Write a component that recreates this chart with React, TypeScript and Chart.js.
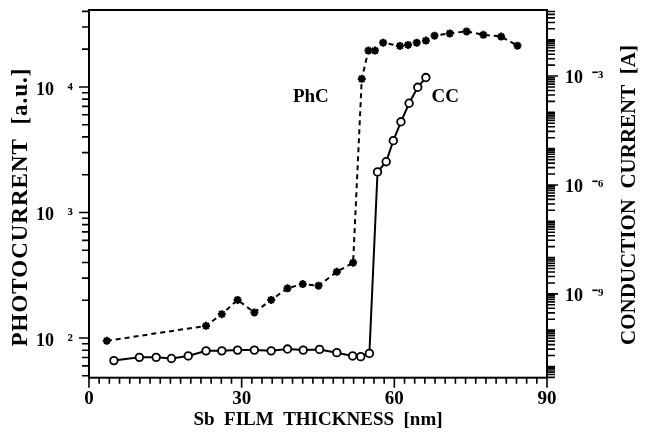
import React, { useEffect, useRef } from 'react';
import { Chart, registerables } from 'chart.js';

Chart.register(...registerables);

// Photocurrent (PhC), left axis [a.u.]
const phcThickness = [3.5, 23.0, 26.1, 29.2, 32.5, 35.8, 39.0, 42.0, 45.1, 48.7, 51.9, 53.6, 54.9, 56.2, 57.8, 61.1, 62.7, 64.4, 66.2, 67.9, 70.9, 74.2, 77.5, 81.0, 84.2];
const phcValues = [95, 125, 155, 201, 160, 201, 249, 269, 261, 337, 398, 11600, 19500, 19500, 22500, 21200, 21600, 22500, 23400, 25600, 26700, 27700, 26000, 25200, 21300];

// Conduction current (CC), right axis [A]
const ccThickness = [4.9, 9.9, 13.2, 16.2, 19.5, 23.0, 26.1, 29.2, 32.5, 35.8, 39.0, 42.1, 45.3, 48.7, 51.8, 53.4, 55.1, 56.7, 58.4, 59.8, 61.3, 62.9, 64.6, 66.2];
const ccValues = [1.45e-11, 1.78e-11, 1.78e-11, 1.66e-11, 1.95e-11, 2.69e-11, 2.69e-11, 2.82e-11, 2.82e-11, 2.69e-11, 3.02e-11, 2.82e-11, 2.95e-11, 2.40e-11, 1.95e-11, 1.86e-11, 2.29e-11, 2.29e-6, 4.37e-6, 1.66e-5, 5.5e-5, 1.78e-4, 4.9e-4, 9.1e-4];

// Axis ranges and tick labels
const xRange = [0, 90];
const xTickStep = 2;
const xTickLabels = [0, 30, 60, 90];
const leftRange = [48.3, 41000];
const leftTickLabels = [100, 1000, 10000];
const rightRange = [4.9e-12, 0.066];
const rightTickLabels = [1e-9, 1e-6, 1e-3];

const SUP: Record<string, string> = {
  '-': '\u207B', '0': '\u2070', '1': '\u00B9', '2': '\u00B2', '3': '\u00B3', '4': '\u2074',
  '5': '\u2075', '6': '\u2076', '7': '\u2077', '8': '\u2078', '9': '\u2079',
};
const powLabel = (v: number, gap: string) => {
  const e = String(Math.round(Math.log10(v)));
  return '10' + gap + e.split('').map((c) => SUP[c]).join('');
};
const sameLog = (a: number, b: number) => Math.abs(Math.log10(a) - Math.log10(b)) < 1e-6;

const logTicks = (min: number, max: number) => {
  const out: { value: number }[] = [];
  for (let e = Math.floor(Math.log10(min)); e <= Math.ceil(Math.log10(max)); e++) {
    for (let m = 1; m <= 9; m++) {
      const v = m * Math.pow(10, e);
      if (v >= min && v <= max) out.push({ value: v });
    }
  }
  return out;
};

const FONT = "'Liberation Serif', 'Times New Roman', serif";

const noPad = (s: any) => {
  s.paddingTop = 0;
  s.paddingBottom = 0;
  s.paddingLeft = 0;
  s.paddingRight = 0;
};

const framePlugin = {
  id: 'frame',
  afterDatasetsDraw(chart: any) {
    const { ctx, chartArea: a, scales } = chart;
    ctx.save();
    ctx.strokeStyle = '#000';
    ctx.lineWidth = 2;
    ctx.strokeRect(a.left, a.top, a.right - a.left, a.bottom - a.top);

    ctx.lineWidth = 1.6;
    ctx.beginPath();
    for (const t of scales.x.ticks) {
      const px = scales.x.getPixelForValue(t.value);
      const major = xTickLabels.includes(t.value);
      ctx.moveTo(px, a.bottom);
      ctx.lineTo(px, a.bottom + (major ? 10 : 6));
    }
    for (const t of scales.y.ticks) {
      const py = scales.y.getPixelForValue(t.value);
      const major = leftTickLabels.some((l) => sameLog(l, t.value));
      ctx.moveTo(a.left, py);
      ctx.lineTo(a.left - (major ? 10 : 7), py);
    }
    for (const t of scales.y1.ticks) {
      const py = scales.y1.getPixelForValue(t.value);
      const major = rightTickLabels.some((l) => sameLog(l, t.value));
      ctx.moveTo(a.right, py);
      ctx.lineTo(a.right + (major ? 11 : 8), py);
    }
    ctx.stroke();

    ctx.fillStyle = '#000';
    ctx.textAlign = 'center';
    ctx.textBaseline = 'middle';
    ctx.font = `bold 19px ${FONT}`;
    ctx.fillText('PhC', scales.x.getPixelForValue(43.6), scales.y.getPixelForValue(8300));
    ctx.fillText('CC', scales.x.getPixelForValue(70.0), scales.y.getPixelForValue(8300));

    ctx.save();
    ctx.font = `bold 23px ${FONT}`;
    (ctx as any).letterSpacing = '1px';
    ctx.translate(21, 207);
    ctx.rotate(-Math.PI / 2);
    ctx.fillText('PHOTOCURRENT  [a.u.]', 0, 0);
    ctx.restore();
    ctx.save();
    ctx.font = `bold 21px ${FONT}`;
    ctx.translate(630, 195);
    ctx.rotate(-Math.PI / 2);
    ctx.fillText('CONDUCTION  CURRENT  [A]', 0, 0);
    ctx.restore();
    ctx.restore();
  },
};

const bgPlugin = {
  id: 'bg',
  beforeDraw(chart: any) {
    const { ctx, width, height } = chart;
    ctx.save();
    ctx.fillStyle = '#fff';
    ctx.fillRect(0, 0, width, height);
    ctx.restore();
  },
};

export default function App() {
  const ref = useRef<HTMLCanvasElement>(null);
  useEffect(() => {
    if (!ref.current) return;
    const chart = new Chart(ref.current, {
      type: 'line',
      data: {
        datasets: [
          {
            label: 'PhC',
            data: phcThickness.map((x, i) => ({ x, y: phcValues[i] })),
            yAxisID: 'y',
            borderColor: '#000',
            borderWidth: 2,
            borderDash: [5, 4],
            pointStyle: 'star',
            pointRadius: 4,
            pointBorderWidth: 2.2,
            pointBorderColor: '#000',
            pointBackgroundColor: '#000',
            tension: 0,
          },
          {
            label: 'CC',
            data: ccThickness.map((x, i) => ({ x, y: ccValues[i] })),
            yAxisID: 'y1',
            borderColor: '#000',
            borderWidth: 2,
            pointStyle: 'circle',
            pointRadius: 3.8,
            pointBorderWidth: 1.8,
            pointBorderColor: '#000',
            pointBackgroundColor: '#fff',
            tension: 0,
          },
        ],
      },
      options: {
        responsive: false,
        animation: false,
        layout: { padding: { top: 10, left: 0, right: 0, bottom: 0 } },
        plugins: { legend: { display: false }, tooltip: { enabled: false } },
        scales: {
          x: {
            type: 'linear',
            min: xRange[0],
            max: xRange[1],
            grid: { display: false, drawTicks: false },
            border: { display: false },
            afterBuildTicks: (s: any) => {
              const t = [];
              for (let v = xRange[0]; v <= xRange[1]; v += xTickStep) t.push({ value: v });
              s.ticks = t;
            },
            afterFit: (s: any) => { s.height = 55.3; noPad(s); },
            ticks: {
              autoSkip: false,
              maxRotation: 0,
              padding: 10,
              color: '#000',
              font: { family: FONT, size: 19, weight: 'bold' },
              callback: (v: any) => (xTickLabels.includes(Number(v)) ? String(v) : ''),
            },
            title: {
              display: true,
              text: 'Sb  FILM  THICKNESS  [nm]',
              color: '#000',
              font: { family: FONT, size: 19, weight: 'bold' },
              padding: { top: 0, bottom: 2 },
            },
          },
          y: {
            type: 'logarithmic',
            position: 'left',
            min: leftRange[0],
            max: leftRange[1],
            grid: { display: false, drawTicks: false },
            border: { display: false },
            afterBuildTicks: (s: any) => { s.ticks = logTicks(leftRange[0], leftRange[1]); },
            afterFit: (s: any) => { s.width = 89; noPad(s); },
            ticks: {
              autoSkip: false,
              padding: 16,
              labelOffset: 3,
              color: '#000',
              font: { family: FONT, size: 18, weight: 'bold' },
              callback: (v: any) => {
                const l = leftTickLabels.find((x) => sameLog(x, Number(v)));
                return l ? powLabel(l, '   ') : '';
              },
            },
          },
          y1: {
            type: 'logarithmic',
            position: 'right',
            min: rightRange[0],
            max: rightRange[1],
            grid: { display: false, drawTicks: false },
            border: { display: false },
            afterBuildTicks: (s: any) => { s.ticks = logTicks(rightRange[0], rightRange[1]); },
            afterFit: (s: any) => { s.width = 101; noPad(s); },
            ticks: {
              autoSkip: false,
              padding: 18,
              labelOffset: 2,
              color: '#000',
              font: { family: FONT, size: 18, weight: 'bold' },
              callback: (v: any) => {
                const l = rightTickLabels.find((x) => sameLog(x, Number(v)));
                return l ? powLabel(l, '  ') : '';
              },
            },
          },
        },
      },
      plugins: [bgPlugin, framePlugin],
    } as any);
    return () => chart.destroy();
  }, []);

  return (
    <div style={{ position: 'absolute', left: 0, top: 0, width: 648, height: 433, background: '#fff' }}>
      <canvas ref={ref} width={648} height={433} />
    </div>
  );
}
